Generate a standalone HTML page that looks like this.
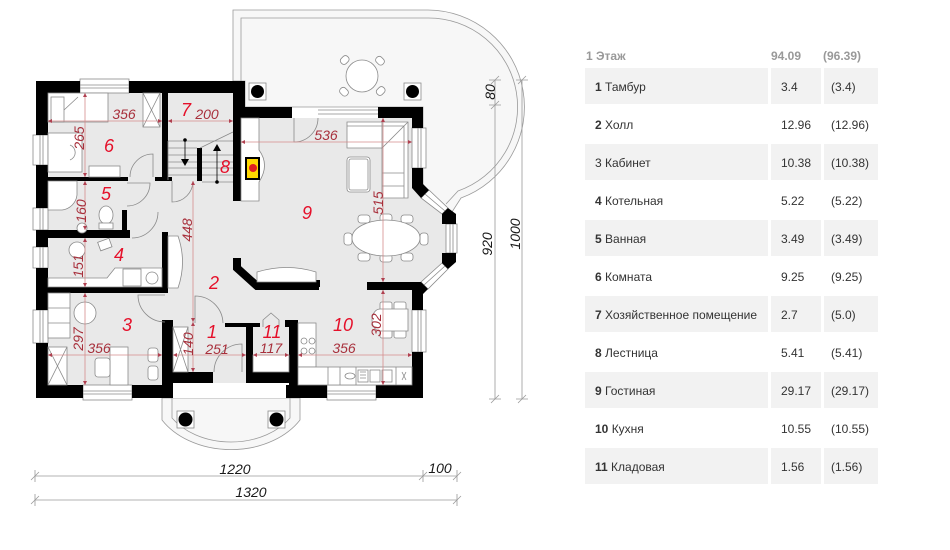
<!DOCTYPE html>
<html><head><meta charset="utf-8">
<style>
html,body{margin:0;padding:0;background:#fff;}
svg{display:block}
.f{fill:#fff;stroke:#8a8a8a;stroke-width:0.8}
.l{fill:none;stroke:#8a8a8a;stroke-width:0.8}
.d{stroke:#d58c8c;stroke-width:0.8;fill:none}
.k{stroke:#9a9a9a;stroke-width:0.8;fill:none}
.dt{font-family:"Liberation Sans",sans-serif;font-style:italic;font-size:14px;fill:#a8303c}
.rn{font-family:"Liberation Sans",sans-serif;font-style:italic;font-size:18px;fill:#e5102a}
.bt{font-family:"Liberation Sans",sans-serif;font-style:italic;font-size:14px;fill:#1a1a1a}
.t{font-family:"Liberation Sans","Noto Sans CJK SC",sans-serif;font-size:12px;fill:#333}
.h{font-family:"Liberation Sans","Noto Sans CJK SC",sans-serif;font-size:12px;fill:#999;font-weight:bold}
</style></head><body>
<svg width="950" height="550" viewBox="0 0 950 550" xmlns="http://www.w3.org/2000/svg">
<defs>
<marker id="a" viewBox="0 0 6 6" refX="6" refY="3" markerUnits="userSpaceOnUse" markerWidth="5" markerHeight="4" orient="auto-start-reverse"><path d="M0,0 L6,3 L0,6 z" fill="#b04050"/></marker>
</defs>

<!-- Terrace -->
<path d="M233,81 V10 H428 A97,97 0 0 1 461,198 L452,212 L440,205 L423,188 V107 H245 V81 Z" fill="#f7f7f7" stroke="#9a9a9a" stroke-width="0.8"/>
<path d="M241,81 V18 H428 A89,89 0 0 1 458,191 L446,204" class="k"/>
<g class="f">
<rect x="340" y="57" width="9" height="7" rx="3" transform="rotate(-45 344 60)"/>
<rect x="376" y="57" width="9" height="7" rx="3" transform="rotate(45 380 60)"/>
<rect x="340" y="88" width="9" height="7" rx="3" transform="rotate(45 344 91)"/>
<rect x="376" y="88" width="9" height="7" rx="3" transform="rotate(-45 380 91)"/>
<circle cx="362" cy="76" r="16"/>
<rect x="249" y="83" width="17" height="17"/>
<rect x="404" y="83" width="17" height="17"/>
</g>
<circle cx="257.5" cy="91.5" r="6.5" fill="#000"/>
<circle cx="412.5" cy="91.5" r="6.5" fill="#000"/>

<!-- Porch -->
<path d="M162,398 V420 A80,60 0 0 0 300,420 V398 Z" fill="#f7f7f7" stroke="#9a9a9a" stroke-width="0.8"/>
<path d="M172,398 V418 A70,52 0 0 0 290,418 V398" class="k"/>
<rect x="177" y="411" width="17" height="17" class="f"/>
<rect x="268" y="411" width="17" height="17" class="f"/>
<circle cx="185.5" cy="419.5" r="7" fill="#000"/>
<circle cx="276.5" cy="419.5" r="7" fill="#000"/>

<!-- floors -->
<rect x="48" y="93" width="197" height="292" fill="#e9e9e9"/>
<path d="M241,118 H423 V185 L448,212 V266 L423,290 V385 H241 Z" fill="#e9e9e9"/>
<rect x="173" y="383" width="116" height="15" fill="#fff"/>

<!-- windows -->
<g class="f">
<rect x="80" y="79" width="49" height="14"/>
<rect x="33" y="135" width="15" height="30"/>
<rect x="33" y="208" width="15" height="22"/>
<rect x="33" y="247" width="15" height="21"/>
<rect x="33" y="310" width="15" height="33"/>
<rect x="83" y="385" width="49" height="15"/>
<rect x="327" y="385" width="49" height="15"/>
<rect x="412" y="310" width="14" height="42"/>
<rect x="412" y="128" width="14" height="40"/>
<rect x="446" y="224" width="11" height="29"/>
<polygon points="429,190 448,208 442,214 421,198"/>
<polygon points="442,263 448,269 428,289 421,282"/>
</g>
<g class="l">
<path d="M80,85 H129 M80,88 H129"/>
<path d="M40,135 V165 M43,135 V165 M40,208 V230 M43,208 V230 M40,247 V268 M43,247 V268 M40,310 V343 M43,310 V343"/>
<path d="M83,391 H132 M83,394 H132 M327,391 H376 M327,394 H376"/>
<path d="M418,310 V352 M421,310 V352 M418,128 V168 M421,128 V168 M450,224 V253 M453,224 V253"/>
<path d="M425,194 L445,211 M424,285 L445,266"/>
<path d="M318,110 H378 M318,114 H378"/>
</g>

<!-- Walls -->
<g fill="#000">
<rect x="36" y="81" width="44" height="12"/>
<rect x="129" y="81" width="116" height="12"/>
<rect x="233" y="81" width="12" height="26"/>
<rect x="233" y="107" width="8" height="94"/>
<rect x="233" y="107" width="59" height="11"/>
<rect x="378" y="107" width="45" height="11"/>
<rect x="412" y="107" width="11" height="21"/>
<polygon points="412,168 423,168 423,184 429,190 421,198 412,188"/>
<polygon points="442,214 448,208 456,214 456,224 442,224"/>
<polygon points="442,253 456,253 456,262 448,269 442,263"/>
<polygon points="367,282 421,282 428,289 423,294 423,310 412,310 412,290 367,290"/>
<rect x="280" y="280" width="40" height="7"/>
<rect x="412" y="352" width="11" height="46"/>
<rect x="376" y="385" width="47" height="13"/>
<rect x="286" y="385" width="41" height="13"/>
<rect x="289" y="320" width="9" height="78"/>
<rect x="285" y="320" width="4" height="7"/>
<rect x="246" y="372" width="52" height="11"/>
<rect x="246" y="323" width="7" height="60"/>
<rect x="225" y="323" width="35" height="4"/>
<rect x="162" y="372" width="51" height="11"/>
<rect x="162" y="320" width="11" height="78"/>
<rect x="132" y="385" width="41" height="13"/>
<rect x="36" y="385" width="47" height="13"/>
<rect x="36" y="81" width="12" height="54"/>
<rect x="36" y="165" width="12" height="43"/>
<rect x="36" y="230" width="12" height="17"/>
<rect x="36" y="268" width="12" height="42"/>
<rect x="36" y="343" width="12" height="55"/>
<rect x="162" y="93" width="6" height="87"/>
<rect x="155" y="177" width="17" height="4"/>
<rect x="48" y="177" width="80" height="4"/>
<rect x="197" y="148" width="5" height="33"/>
<rect x="122" y="210" width="5" height="28"/>
<rect x="48" y="230" width="82" height="8"/>
<rect x="162" y="232" width="6" height="61"/>
<rect x="48" y="287" width="120" height="6"/>
</g>
<polyline points="237,258 237,268 257,286 319,286" fill="none" stroke="#000" stroke-width="8"/>

<!-- Furniture -->
<g class="f">
<rect x="48" y="93" width="60" height="29"/>
<rect x="51" y="97" width="13" height="25"/>
<rect x="143" y="93" width="17" height="34"/>
<rect x="48" y="133" width="34" height="39"/>
<rect x="89" y="166" width="31" height="11"/>
<path d="M48,181 H77 V195 A17,17 0 0 1 62,210 H48 Z"/>
<ellipse cx="106" cy="215" rx="7" ry="9"/>
<rect x="99" y="223" width="14" height="6"/>
<circle cx="82" cy="228" r="5"/>
<circle cx="77" cy="250" r="8"/>
<rect x="99" y="240" width="12" height="9" transform="rotate(-20 105 245)"/>
<path d="M48,278 H107 L115,268 H162 V287 H48 Z"/>
<rect x="123" y="269" width="18" height="17"/>
<circle cx="152" cy="278" r="6"/>
<rect x="48" y="293" width="22" height="45"/>
<circle cx="85" cy="313" r="11"/>
<rect x="48" y="347" width="19" height="38"/>
<rect x="110" y="347" width="18" height="38"/>
<rect x="95" y="358" width="15" height="19" rx="3"/>
<rect x="148" y="348" width="10" height="14" rx="3"/>
<rect x="148" y="366" width="10" height="14" rx="3"/>
<path d="M168,236 H178 Q187,262 178,288 H168 Z"/>
<rect x="173" y="327" width="15" height="45"/>
<rect x="253" y="355" width="36" height="17"/>
<rect x="298" y="323" width="18" height="44"/>
<rect x="298" y="367" width="114" height="18"/>
<rect x="380" y="302" width="12" height="10" rx="2"/>
<rect x="394" y="302" width="12" height="10" rx="2"/>
<rect x="380" y="328" width="12" height="10" rx="2"/>
<rect x="394" y="328" width="12" height="10" rx="2"/>
<path d="M380,309 H408 V331 H380 A8,11 0 0 1 380,309 Z"/>
<path d="M347,122 H408 V198 H382 V148 H347 Z"/>
<rect x="347" y="157" width="23" height="35" rx="3"/>
<rect x="358" y="215" width="12" height="8" rx="3"/>
<rect x="380" y="214" width="12" height="8" rx="3"/>
<rect x="401" y="215" width="12" height="8" rx="3"/>
<rect x="358" y="253" width="12" height="8" rx="3"/>
<rect x="380" y="254" width="12" height="8" rx="3"/>
<rect x="401" y="253" width="12" height="8" rx="3"/>
<rect x="344" y="233" width="8" height="12" rx="3"/>
<rect x="420" y="233" width="8" height="12" rx="3"/>
<ellipse cx="386" cy="238" rx="34" ry="18"/>
<path d="M257,282 V272 Q287,263 316,272 V282 Z"/>
</g>
<g class="l">
<path d="M143,93 L160,127 M160,93 L143,127 M48,347 L67,385 M67,347 L48,385 M173,327 L188,372 M188,327 L173,372"/>
<path d="M64,110 L78,97 M70,160 A8,8 0 0 0 70,145"/>
<path d="M48,308 H70 M48,323 H70"/>
<path d="M347,126 H404 V198 M382,122 V148 L408,122 M382,173 H404 M382,186 H404"/>
<rect x="349" y="159" width="19" height="31" rx="2"/>
<circle cx="304" cy="341" r="3"/><circle cx="312" cy="341" r="3"/><circle cx="304" cy="351" r="3"/><circle cx="312" cy="351" r="3"/>
<path d="M328,367 V385 M340,367 V385 M356,367 V385 M396,367 V385"/>
<rect x="358" y="370" width="10" height="12"/><rect x="370" y="370" width="10" height="12"/><rect x="382" y="370" width="10" height="12"/>
<path d="M360,372 H366 M360,375 H366 M360,378 H366"/>
<ellipse cx="350" cy="376" rx="5" ry="3"/>
<path d="M402,372 L406,380 M406,372 L402,380"/>
<path d="M263,327 V320 L271,313 L279,320 V327"/>
<path d="M153,177 V154 A23,23 0 0 0 130,177"/>
<path d="M127,183 H150 A23,23 0 0 1 127,206"/>
<path d="M132,238 A26,26 0 0 0 158,212"/>
<path d="M172,181 V202 A21,21 0 0 0 193,181"/>
<path d="M165,295 H138 A27,27 0 0 0 165,322"/>
<path d="M195,323 V296 A28,28 0 0 1 223,323"/>
<path d="M242,372 V344 A28,28 0 0 0 214,372"/>
<path d="M294,118 V142 A24,24 0 0 0 318,118"/>
<path d="M168,141 H233 M168,148 H197 M168,155 H197 M168,162 H197 M168,168 H197 M168,175 H197"/>
<path d="M202,155 H233 M202,162 H233 M202,168 H233 M202,175 H233 M202,182 H233 M200,148 L233,132 M168,141 V180"/>
</g>
<path d="M241,118 H259 V150 Q270,165 259,182 V201 H241 Z" fill="#fff" stroke="#8a8a8a" stroke-width="0.8"/>
<rect x="246" y="158" width="13" height="21" fill="#ffd700" stroke="#000" stroke-width="2"/>
<circle cx="253" cy="168" r="4" fill="#e02020"/>
<g fill="#000">
<circle cx="185" cy="140" r="1.8"/>
<path d="M185,140 V160" stroke="#000" stroke-width="0.8"/>
<path d="M181,159 L189,159 L185,166 Z"/>
<circle cx="217" cy="182" r="1.8"/>
<path d="M217,182 V150" stroke="#000" stroke-width="0.8"/>
<path d="M213,151 L221,151 L217,144 Z"/>
</g>

<!-- Red dimension lines -->
<g class="d" marker-start="url(#a)" marker-end="url(#a)">
<path d="M48,121 H162"/>
<path d="M168,121 H233"/>
<path d="M85,93 V177"/>
<path d="M85,181 V230"/>
<path d="M85,238 V287"/>
<path d="M85,293 V385"/>
<path d="M48,355 H162"/>
<path d="M173,355 H246"/>
<path d="M253,355 H289"/>
<path d="M298,355 H412"/>
<path d="M193,181 V322"/>
<path d="M193,322 V372"/>
<path d="M241,142 H412"/>
<path d="M383,118 V282"/>
<path d="M383,290 V385"/>
</g>

<g class="dt" text-anchor="middle">
<text x="124" y="119">356</text>
<text x="207" y="119">200</text>
<text x="326" y="140">536</text>
<text x="99" y="353">356</text>
<text x="217" y="354">251</text>
<text x="271" y="353">117</text>
<text x="344" y="353">356</text>
<text transform="translate(79,138) rotate(-90)" dy="5">265</text>
<text transform="translate(81,211) rotate(-90)" dy="5">160</text>
<text transform="translate(187,230) rotate(-90)" dy="5">448</text>
<text transform="translate(78,266) rotate(-90)" dy="5">151</text>
<text transform="translate(78,339) rotate(-90)" dy="5">297</text>
<text transform="translate(188,344) rotate(-90)" dy="5">140</text>
<text transform="translate(376,325) rotate(-90)" dy="5">302</text>
<text transform="translate(378,203) rotate(-90)" dy="5">515</text>
</g>
<g class="rn" text-anchor="middle">
<text x="109" y="152">6</text>
<text x="186" y="116">7</text>
<text x="225" y="173">8</text>
<text x="106" y="200">5</text>
<text x="119" y="261">4</text>
<text x="214" y="289">2</text>
<text x="127" y="331">3</text>
<text x="212" y="338">1</text>
<text x="272" y="338">11</text>
<text x="343" y="331">10</text>
<text x="307" y="219">9</text>
</g>

<g class="k">
<path d="M35,476 H457 M35,500 H457"/>
<path d="M35,470 V482 M423,470 V482 M457,470 V482 M35,494 V506 M457,494 V506"/>
<path d="M31,480 L39,472 M419,480 L427,472 M453,480 L461,472 M31,504 L39,496 M453,504 L461,496"/>
<path d="M495,80 V399 M522,80 V399"/>
<path d="M489,80 H501 M489,105 H501 M489,399 H501 M516,80 H528 M516,399 H528"/>
<path d="M491,84 L499,76 M491,109 L499,101 M491,403 L499,395 M518,84 L526,76 M518,403 L526,395"/>
</g>
<g class="bt" text-anchor="middle">
<text x="235" y="474">1220</text>
<text x="440" y="473">100</text>
<text x="251" y="497">1320</text>
<text transform="translate(490,92) rotate(-90)" dy="5">80</text>
<text transform="translate(487,244) rotate(-90)" dy="5">920</text>
<text transform="translate(515,234) rotate(-90)" dy="5">1000</text>
</g>

<!-- Table -->
<g fill="#f2f2f2">
<rect x="585" y="68" width="183" height="36"/><rect x="771" y="68" width="50" height="36"/><rect x="824" y="68" width="54" height="36"/>
<rect x="585" y="144" width="183" height="36"/><rect x="771" y="144" width="50" height="36"/><rect x="824" y="144" width="54" height="36"/>
<rect x="585" y="220" width="183" height="36"/><rect x="771" y="220" width="50" height="36"/><rect x="824" y="220" width="54" height="36"/>
<rect x="585" y="296" width="183" height="36"/><rect x="771" y="296" width="50" height="36"/><rect x="824" y="296" width="54" height="36"/>
<rect x="585" y="372" width="183" height="36"/><rect x="771" y="372" width="50" height="36"/><rect x="824" y="372" width="54" height="36"/>
<rect x="585" y="448" width="183" height="36"/><rect x="771" y="448" width="50" height="36"/><rect x="824" y="448" width="54" height="36"/>
</g>
<text class="h" x="586" y="60">1 Этаж</text>
<text class="h" x="771" y="60">94.09</text>
<text class="h" x="823" y="60">(96.39)</text>

<g class="t">
<text x="595" y="91"><tspan font-weight="bold">1</tspan> Тамбур</text><text x="781" y="91">3.4</text><text x="831" y="91">(3.4)</text>
<text x="595" y="129"><tspan font-weight="bold">2</tspan> Холл</text><text x="781" y="129">12.96</text><text x="831" y="129">(12.96)</text>
<text x="595" y="167">3 Кабинет</text><text x="781" y="167">10.38</text><text x="831" y="167">(10.38)</text>
<text x="595" y="205"><tspan font-weight="bold">4</tspan> Котельная</text><text x="781" y="205">5.22</text><text x="831" y="205">(5.22)</text>
<text x="595" y="243"><tspan font-weight="bold">5</tspan> Ванная</text><text x="781" y="243">3.49</text><text x="831" y="243">(3.49)</text>
<text x="595" y="281"><tspan font-weight="bold">6</tspan> Комната</text><text x="781" y="281">9.25</text><text x="831" y="281">(9.25)</text>
<text x="595" y="319"><tspan font-weight="bold">7</tspan> Хозяйственное помещение</text><text x="781" y="319">2.7</text><text x="831" y="319">(5.0)</text>
<text x="595" y="357"><tspan font-weight="bold">8</tspan> Лестница</text><text x="781" y="357">5.41</text><text x="831" y="357">(5.41)</text>
<text x="595" y="395"><tspan font-weight="bold">9</tspan> Гостиная</text><text x="781" y="395">29.17</text><text x="831" y="395">(29.17)</text>
<text x="595" y="433"><tspan font-weight="bold">10</tspan> Кухня</text><text x="781" y="433">10.55</text><text x="831" y="433">(10.55)</text>
<text x="595" y="471"><tspan font-weight="bold">11</tspan> Кладовая</text><text x="781" y="471">1.56</text><text x="831" y="471">(1.56)</text>
</g>
</svg>
</body></html>
